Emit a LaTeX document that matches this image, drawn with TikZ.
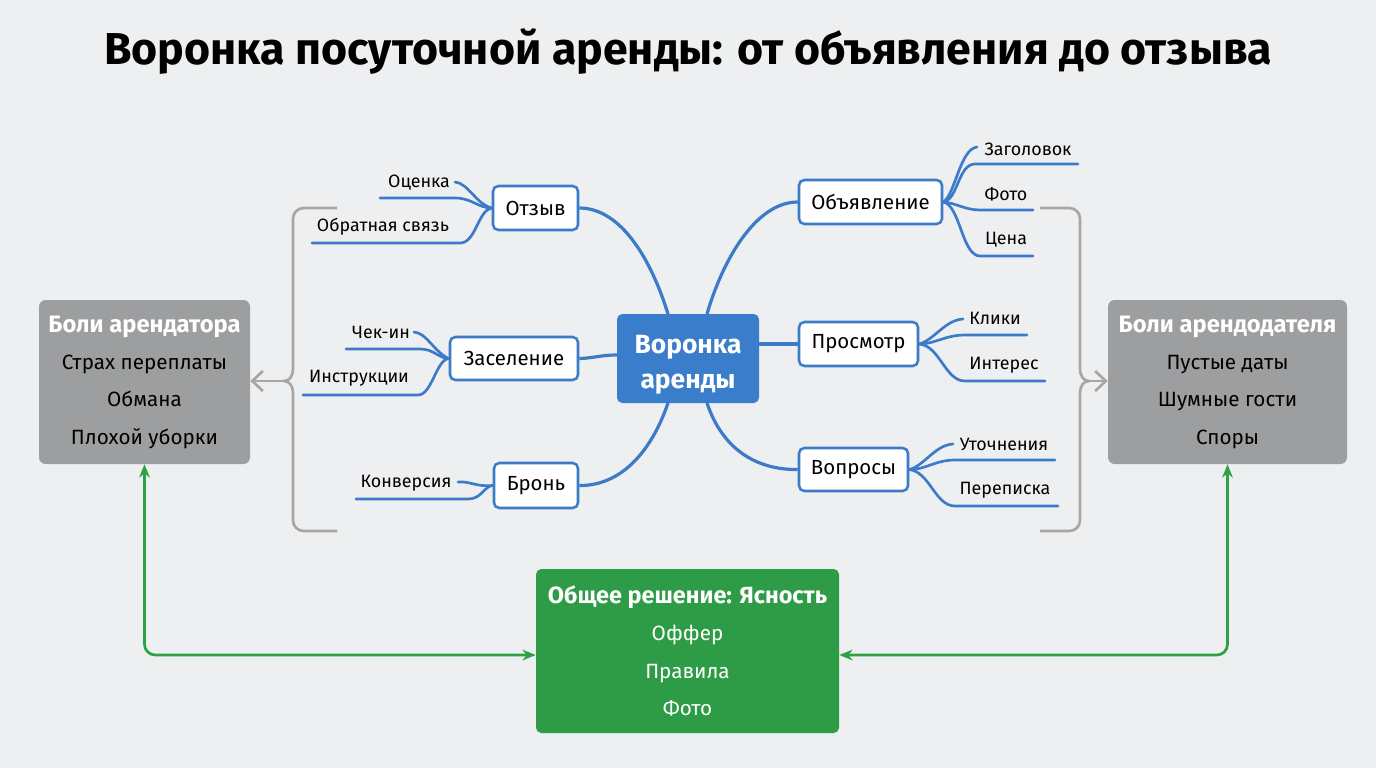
\documentclass[tikz,border=0pt]{standalone}
\usepackage{fontspec}
\setmainfont{Fira Sans}
\usetikzlibrary{arrows.meta,calc}
\definecolor{bg}{HTML}{EDEFF1}
\definecolor{mblue}{HTML}{3B7BC8}
\definecolor{cblue}{HTML}{3A7DCB}
\definecolor{pgray}{HTML}{9C9EA0}
\definecolor{bgray}{HTML}{A6A6A6}
\definecolor{sgreen}{HTML}{2E9C46}
\definecolor{agreen}{HTML}{2EA045}
\begin{document}
\begin{tikzpicture}[x=0.75pt,y=-0.75pt,
  stage/.style={draw=mblue, line width=1.9pt, fill=white, rounded corners=4pt, inner sep=0pt, font=\fontsize{15.3}{18}\selectfont},
  leaf/.style={inner sep=0pt, font=\fontsize{13.4}{16}\selectfont},
  link/.style={draw=mblue, line width=2.4pt},
  twig/.style={draw=mblue, line width=2pt, line cap=round},
  pain/.style={fill=pgray, rounded corners=5pt, inner sep=0pt, align=center, font=\fontsize{15.5}{28}\selectfont},
  brk/.style={draw=bgray, line width=2pt},
  barb/.style={draw=bgray, line width=2pt, -{Straight Barb[length=8pt,width=15pt,line width=2pt]}},
  garr/.style={draw=agreen, line width=2pt, rounded corners=8pt, {Stealth[length=10pt,width=8pt]}-{Stealth[length=10pt,width=8pt]}}
]
\fill[bg] (0,0) rectangle (1376,768);
\useasboundingbox (0,0) rectangle (1376,768);

\node[font=\bfseries\fontsize{33.5}{38}\selectfont] (title) at (688,52) {Воронка посуточной аренды: от объявления до отзыва};

% central
\node[fill=cblue, rounded corners=4pt, minimum width=142*0.75pt, minimum height=89*0.75pt, inner sep=0pt, align=center, text=white, font=\bfseries\fontsize{19.8}{26}\selectfont] (core) at (688,358.5) {\\[-3pt]Воронка\\аренды};

% stages
\node[stage, minimum width=85*0.75pt, minimum height=44*0.75pt] (otz) at (535.5,208) {Отзыв};
\node[stage, minimum width=128*0.75pt, minimum height=43*0.75pt] (zas) at (514,358.5) {Заселение};
\node[stage, minimum width=84*0.75pt, minimum height=45*0.75pt] (bro) at (536,485.5) {Бронь};
\node[stage, minimum width=143*0.75pt, minimum height=44*0.75pt] (obj) at (870.5,202) {Объявление};
\node[stage, minimum width=119*0.75pt, minimum height=44*0.75pt] (pro) at (858.5,344) {Просмотр};
\node[stage, minimum width=109*0.75pt, minimum height=43*0.75pt] (vop) at (853.5,469.5) {Вопросы};

% core links
\coordinate (cnl) at (668,314);
\coordinate (cnr) at (707,314);
\coordinate (csl) at (668,403);
\coordinate (csr) at (707,403);
\coordinate (cw) at (617,355);
\coordinate (ce) at (759,344);
\draw[link] (otz.east) .. controls (622,208) and (652,262) .. (cnl);
\draw[link] (cnr) .. controls (722,262) and (755,202) .. (obj.west);
\draw[link] (zas.east) .. controls (595,358) and (600,355) .. (cw);
\draw[link] (ce) -- (pro.west);
\draw[link] (bro.east) .. controls (622,486) and (652,450) .. (csl);
\draw[link] (csr) .. controls (722,448) and (755,470) .. (vop.west);

% leaves left
\node[leaf] (l1) at (419,183) {Оценка};
\node[leaf] (l2) at (383,227) {Обратная связь};
\node[leaf] (l3) at (381,332) {Чек-ин};
\node[leaf] (l4) at (359,378) {Инструкции};
\node[leaf] (l5) at (406,483) {Конверсия};
\draw[twig] (380,198) -- (455,198) .. controls (472,198) and (478,208) .. (otz.west);
\draw[twig] (455,182) .. controls (468,183) and (476,204) .. (otz.west);
\draw[twig] (312,243) -- (460,243) .. controls (476,243) and (478,210) .. (otz.west);
\draw[twig] (346,349) -- (420,349) .. controls (434,349) and (438,358) .. (zas.west);
\draw[twig] (414,332) .. controls (427,333) and (434,352) .. (zas.west);
\draw[twig] (303,395) -- (418,395) .. controls (432,395) and (436,360) .. (zas.west);
\draw[twig] (356,499) -- (468,499) .. controls (482,499) and (484,486) .. (bro.west);
\draw[twig] (458,482) .. controls (470,481) and (476,487) .. (bro.west);

% leaves right
\node[leaf] (r1) at (1028,149) {Заголовок};
\node[leaf] (r2) at (1006,194) {Фото};
\node[leaf] (r3) at (1006,240) {Цена};
\node[leaf] (r4) at (995,318) {Клики};
\node[leaf] (r5) at (1004,365) {Интерес};
\node[leaf] (r6) at (1004,444) {Уточнения};
\node[leaf] (r7) at (1005,490) {Переписка};
\draw[twig] (obj.east) .. controls (958,200) and (958,164) .. (975,164) -- (1078,164);
\draw[twig] (obj.east) .. controls (955,195) and (960,149) .. (977,147);
\draw[twig] (obj.east) .. controls (956,203) and (965,210) .. (980,210) -- (1033,210);
\draw[twig] (obj.east) .. controls (960,205) and (962,256) .. (980,256) -- (1033,256);
\draw[twig] (pro.east) .. controls (935,344) and (945,335) .. (965,335) -- (1027,335);
\draw[twig] (pro.east) .. controls (934,340) and (945,320) .. (963,319);
\draw[twig] (pro.east) .. controls (940,346) and (945,381) .. (965,381) -- (1045,381);
\draw[twig] (vop.east) .. controls (925,470) and (935,460) .. (955,460) -- (1055,460);
\draw[twig] (vop.east) .. controls (924,466) and (935,445) .. (953,444);
\draw[twig] (vop.east) .. controls (930,472) and (935,506) .. (955,506) -- (1058,506);

% pain boxes
\node[pain, minimum width=211*0.75pt, minimum height=164*0.75pt] (painL) at (144.5,382) {{\color{white}\bfseries\fontsize{17.8}{20}\selectfont Боли арендатора}\\Страх переплаты\\Обмана\\Плохой уборки};
\node[pain, minimum width=239*0.75pt, minimum height=164*0.75pt] (painR) at (1227.5,382) {{\color{white}\bfseries\fontsize{17.8}{20}\selectfont Боли арендодателя}\\Пустые даты\\Шумные гости\\Споры};

% brackets
\coordinate (bl) at (284,381);
\coordinate (br) at (1089,381);
\draw[brk] (337,208) [rounded corners=8pt] -| (293,260) [sharp corners] -- (293,368) .. controls (293,377) and (289,381) .. (bl);
\draw[brk] (bl) .. controls (289,381) and (293,385) .. (293,394) -- (293,480) [rounded corners=8pt] |- (337,531);
\draw[barb] (bl) -- (painL.east |- bl);
\draw[brk] (1040,208) [rounded corners=8pt] -| (1080,260) [sharp corners] -- (1080,368) .. controls (1080,377) and (1084,381) .. (br);
\draw[brk] (br) .. controls (1084,381) and (1080,385) .. (1080,394) -- (1080,480) [rounded corners=8pt] |- (1040,531);
\draw[barb] (br) -- (painR.west |- br);

% solution
\node[fill=sgreen, rounded corners=4pt, minimum width=303*0.75pt, minimum height=164*0.75pt, inner sep=0pt, align=center, text=white, font=\fontsize{15.5}{28.2}\selectfont] (sol) at (687.5,651) {{\bfseries\fontsize{17.6}{20}\selectfont Общее решение: Ясность}\\Оффер\\Правила\\Фото};

\draw[garr] (painL.south) |- ([yshift=-3pt]sol.west);
\draw[garr] (painR.south) |- ([yshift=-3pt]sol.east);
\end{tikzpicture}
\end{document}
